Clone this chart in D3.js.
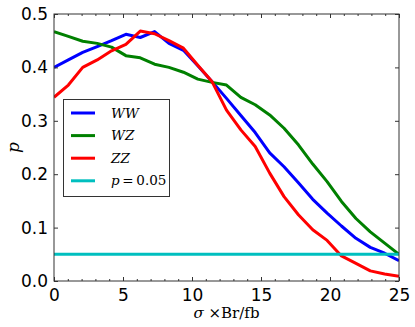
<!DOCTYPE html>
<html>
<head>
<meta charset="utf-8">
<title>p vs sigma x Br</title>
<style>
  body { margin: 0; background: #fff; }
  svg { display: block; }
  .tick text { font-family: "DejaVu Sans", sans-serif; font-size: 17px; fill: #000; }
  .math { font-family: "DejaVu Serif", serif; }
</style>
</head>
<body>
<svg id="chart"></svg>
<script src="https://d3js.org/d3.v7.min.js"></script>
<script>
// sampled signal cross sections (25 points across 0..25)
const sigma = [0, 1.04, 2.08, 3.13, 4.17, 5.21, 6.25, 7.29, 8.33, 9.38, 10.42, 11.46, 12.5,
  13.54, 14.58, 15.63, 16.67, 17.71, 18.75, 19.79, 20.83, 21.88, 22.92, 23.96, 25];

const pWW = [0.400, 0.414, 0.428, 0.439, 0.450, 0.462, 0.456, 0.467, 0.445, 0.432, 0.403, 0.373, 0.342,
  0.310, 0.278, 0.240, 0.214, 0.184, 0.153, 0.127, 0.103, 0.080, 0.063, 0.052, 0.038];
const pWZ = [0.467, 0.458, 0.449, 0.445, 0.438, 0.422, 0.418, 0.406, 0.400, 0.391, 0.378, 0.372, 0.367,
  0.344, 0.330, 0.311, 0.286, 0.255, 0.219, 0.186, 0.149, 0.117, 0.092, 0.071, 0.050];
const pZZ = [0.344, 0.367, 0.400, 0.414, 0.431, 0.443, 0.468, 0.463, 0.450, 0.436, 0.404, 0.373, 0.320,
  0.283, 0.252, 0.202, 0.158, 0.124, 0.096, 0.076, 0.047, 0.033, 0.019, 0.013, 0.009];
const threshold = 0.05;

const xTicks = [0, 5, 10, 15, 20, 25];
const xMinor = d3.range(0, 26).filter(d => d % 5 !== 0);
const yTicks = [0.0, 0.1, 0.2, 0.3, 0.4, 0.5];

const width = 415, height = 327;
const margin = { left: 54, right: 16, top: 14, bottom: 46 };

const svg = d3.select('#chart').attr('width', width).attr('height', height);

const x = d3.scaleLinear().domain([0, 25]).range([margin.left, width - margin.right]);
const y = d3.scaleLinear().domain([0, 0.5]).range([height - margin.bottom, margin.top]);

const series = [
  { name: 'WW', values: pWW, color: '#0000ff' },
  { name: 'WZ', values: pWZ, color: '#008000' },
  { name: 'ZZ', values: pZZ, color: '#ff0000' }
];

const line = d3.line().x((d, i) => x(sigma[i])).y(d => y(d));

svg.append('defs').append('clipPath').attr('id', 'clip')
  .append('rect')
  .attr('x', x(0)).attr('y', y(0.5))
  .attr('width', x(25) - x(0)).attr('height', y(0) - y(0.5));

const plot = svg.append('g').attr('clip-path', 'url(#clip)');

series.forEach(s => {
  plot.append('path')
    .datum(s.values)
    .attr('d', line)
    .attr('fill', 'none')
    .attr('stroke', s.color)
    .attr('stroke-width', 3)
    .attr('stroke-linejoin', 'round');
});

plot.append('line')
  .attr('x1', x(0)).attr('x2', x(25))
  .attr('y1', y(threshold)).attr('y2', y(threshold))
  .attr('stroke', '#00bfbf')
  .attr('stroke-width', 3);

// axes, ticks point inward
function styleAxis(g) {
  g.select('.domain').remove();
  g.selectAll('.tick line').attr('stroke', '#333');
}

svg.append('g')
  .attr('transform', `translate(0,${y(0)})`)
  .call(d3.axisBottom(x).tickValues(xTicks).tickSize(-4).tickPadding(8).tickFormat(d3.format('d')))
  .call(styleAxis);
svg.append('g')
  .attr('transform', `translate(0,${y(0)})`)
  .call(d3.axisBottom(x).tickValues(xMinor).tickSize(-2).tickFormat(''))
  .call(styleAxis);
svg.append('g')
  .attr('transform', `translate(0,${y(0.5)})`)
  .call(d3.axisTop(x).tickValues(xTicks).tickSize(-4).tickFormat(''))
  .call(styleAxis);
svg.append('g')
  .attr('transform', `translate(0,${y(0.5)})`)
  .call(d3.axisTop(x).tickValues(xMinor).tickSize(-2).tickFormat(''))
  .call(styleAxis);
svg.append('g')
  .attr('transform', `translate(${x(0)},0)`)
  .call(d3.axisLeft(y).tickValues(yTicks).tickSize(-4).tickPadding(6).tickFormat(d3.format('.1f')))
  .call(styleAxis);
svg.append('g')
  .attr('transform', `translate(${x(25)},0)`)
  .call(d3.axisRight(y).tickValues(yTicks).tickSize(-4).tickFormat(''))
  .call(styleAxis);

svg.append('rect')
  .attr('x', x(0)).attr('y', y(0.5))
  .attr('width', x(25) - x(0)).attr('height', y(0) - y(0.5))
  .attr('fill', 'none')
  .attr('stroke', '#333')
  .attr('stroke-width', 1);

// axis labels
svg.append('text')
  .attr('class', 'math')
  .attr('x', (x(0) + x(25)) / 2)
  .attr('y', 318)
  .attr('text-anchor', 'middle')
  .attr('font-size', 15)
  .html('<tspan font-style="italic">σ</tspan> ×Br/fb');

svg.append('text')
  .attr('class', 'math')
  .attr('transform', `translate(19,${(y(0) + y(0.5)) / 2}) rotate(-90)`)
  .attr('text-anchor', 'middle')
  .attr('font-size', 17)
  .attr('font-style', 'italic')
  .text('p');

// legend
const legend = svg.append('g');
legend.append('rect')
  .attr('x', 63.5).attr('y', 99.5)
  .attr('width', 106).attr('height', 97)
  .attr('fill', '#fff')
  .attr('stroke', '#333');

const legendItems = series.map(s => ({ label: s.name, color: s.color }))
  .concat([{ label: null, color: '#00bfbf' }]);

legendItems.forEach((d, i) => {
  const ly = 113 + i * 22.6;
  legend.append('line')
    .attr('x1', 71).attr('x2', 95)
    .attr('y1', ly).attr('y2', ly)
    .attr('stroke', d.color)
    .attr('stroke-width', 3);
  const t = legend.append('text')
    .attr('class', 'math')
    .attr('x', 111)
    .attr('y', ly + 4.5)
    .attr('font-size', 13.5);
  if (d.label) {
    t.attr('font-style', 'italic').text(d.label);
  } else {
    t.append('tspan').attr('font-style', 'italic').text('p');
    t.append('tspan').text('\u2009=\u2009' + threshold.toFixed(2));
  }
});
</script>
</body>
</html>
